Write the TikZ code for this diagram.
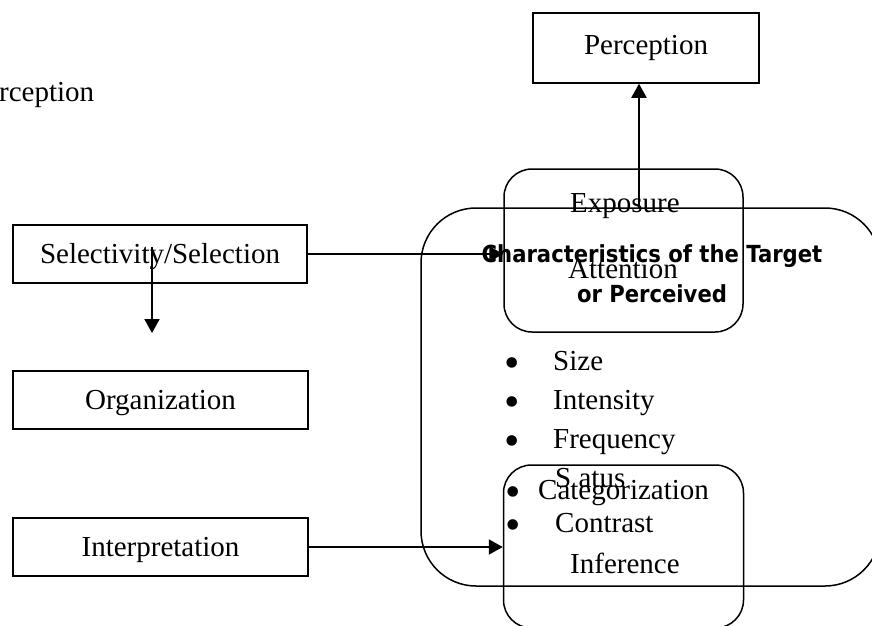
\documentclass[tikz,border=0pt]{standalone}
\usepackage{fontspec}
\setmainfont{Liberation Serif}
\newfontfamily\headfont[FakeStretch=0.9]{DejaVu Sans}
\usetikzlibrary{arrows.meta, positioning}

\begin{document}
\begin{tikzpicture}[
    x=1pt, y=-1pt,
    box/.style={draw, line width=1.5pt, inner sep=0pt, font=\fontsize{29}{34}\selectfont},
    stagebox/.style={box, minimum width=295pt, minimum height=58pt, text height=22pt, text depth=4pt},
    roundbox/.style={draw, line width=1.5pt, inner sep=0pt, rounded corners=28pt},
    txt/.style={inner sep=0pt, anchor=base west, font=\fontsize{29}{34}\selectfont},
    dot/.style={inner sep=0pt, anchor=base, font=\fontsize{44}{44}\selectfont},
    heading/.style={inner sep=0pt, align=center, font=\headfont\bfseries\fontsize{23.5}{40}\selectfont},
    arrow/.style={-{Triangle[length=14pt, width=15pt]}, line width=2pt}
]
\useasboundingbox (0,0) rectangle (872,625);
\clip (0,0) rectangle (872,625);

% Stage boxes on the left
\node[stagebox, minimum width=294pt] (sel) at (160,254) {Selectivity/Selection};
\node[stagebox] (org) at (160.5,400) {Organization};
\node[stagebox] (interp) at (160.5,547) {Interpretation};
\node[box, minimum width=226pt, minimum height=70pt] (percep) at (646,48) {Perception};

% Cut-off title
\node[txt] (title) at (-1,101) {rception};

% Rounded boxes
\node[roundbox, rounded corners=55pt, minimum width=459pt, minimum height=378pt] (target) at (650.5,397) {};
\node[roundbox, minimum width=239pt, minimum height=163pt] (expo) at (623.5,250.5) {};
\node[roundbox, minimum width=240pt, minimum height=163pt] (cat) at (623.5,546.5) {};

% Texts in the rounded boxes
\node[txt] (exposure) at (570,212) {Exposure};
\node[txt] (attention) at (568,278) {Attention};
\node[heading, anchor=north] (head) at (652,244) {Characteristics of the Target\\or Perceived};

\node[dot] (d1) at (512,377) {•};
\node[txt] (size) at (553,370) {Size};
\node[dot] (d2) at (512,416) {•};
\node[txt] (intensity) at (553,409) {Intensity};
\node[dot] (d3) at (512,455) {•};
\node[txt] (frequency) at (553,448) {Frequency};
\node[txt] (status) at (555,487) {S atus};
\node[dot] (d4) at (513,506) {•};
\node[txt] (categ) at (538,499) {Categorization};
\node[dot] (d5) at (513,539) {•};
\node[txt] (contrast) at (555,532) {Contrast};
\node[txt] (inference) at (570,573) {Inference};

% Connectors
\coordinate (seltap) at (152,247);
\coordinate (selend) at (152,333);
\draw[arrow] (seltap) -- (selend);
\draw[arrow] (sel.east) -- (sel.east -| expo.west);
\draw[arrow] (interp.east) -- (interp.east -| cat.west);
\coordinate (upfoot) at (639,208);
\draw[arrow] (upfoot) -- (upfoot |- percep.south);

\end{tikzpicture}
\end{document}
